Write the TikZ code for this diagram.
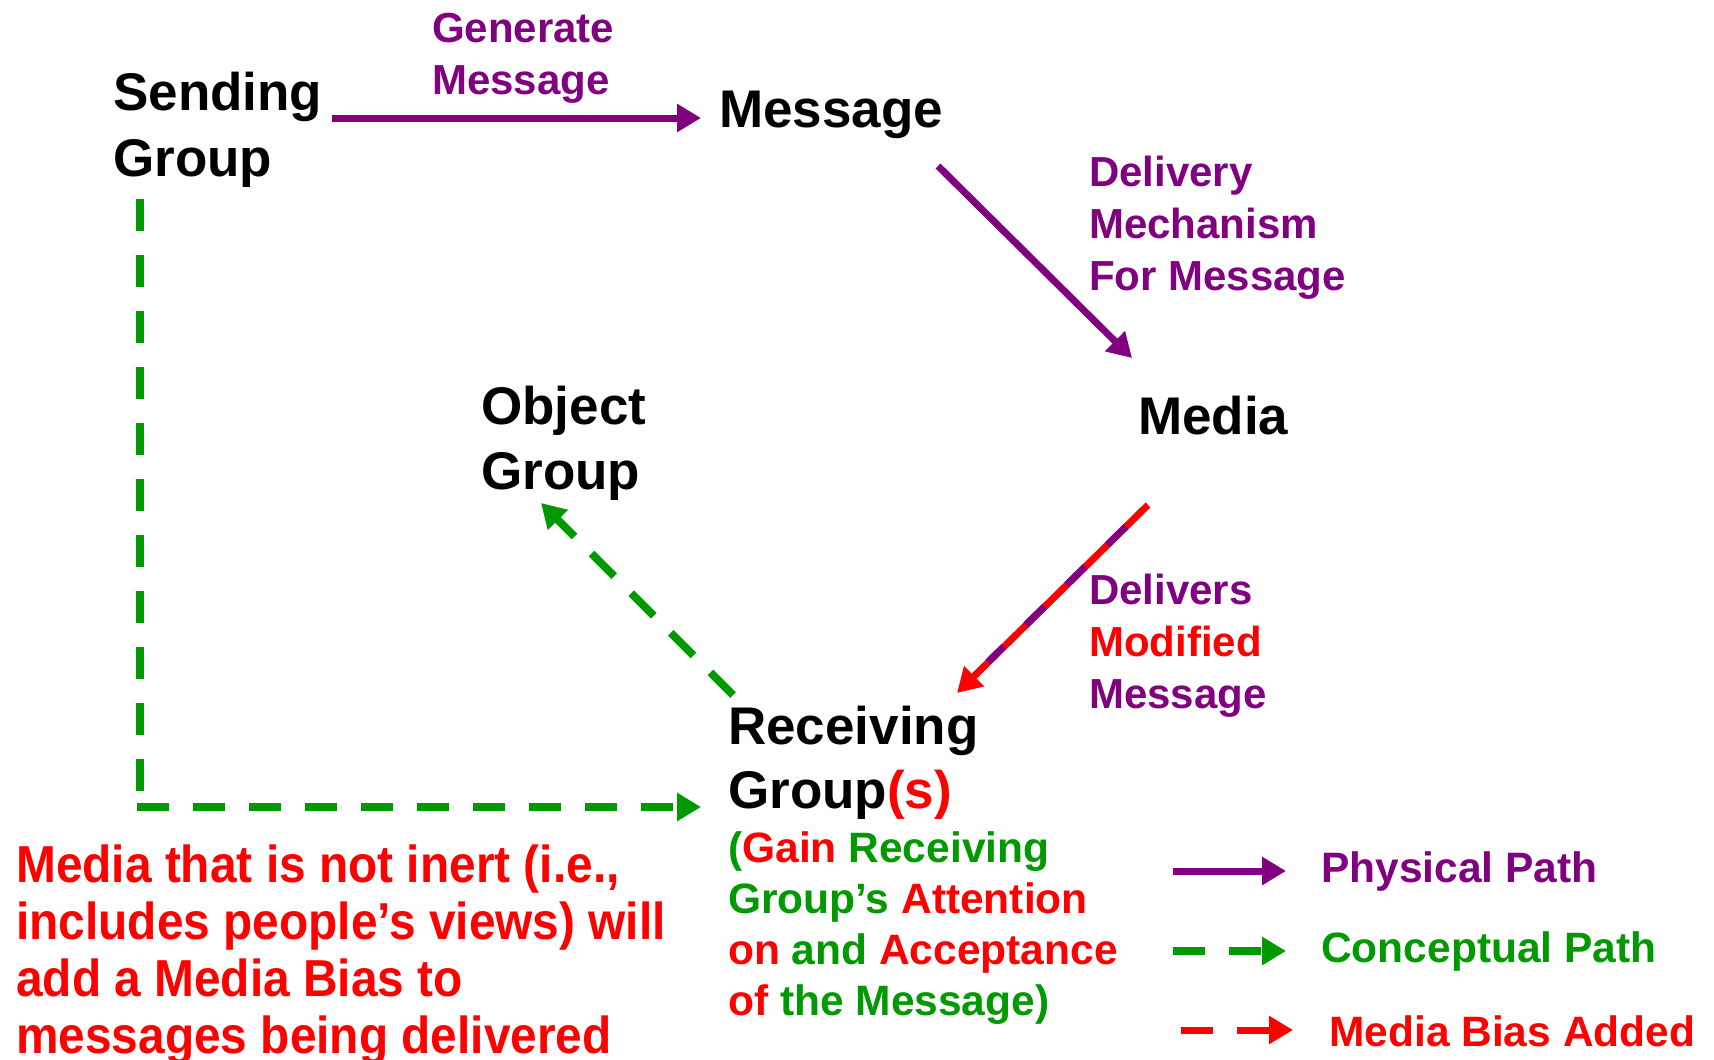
\documentclass[tikz,border=0pt]{standalone}
\usepackage{fontspec}
\setmainfont{Liberation Sans}
\newfontfamily\narrowsans[FakeStretch=0.92]{Liberation Sans}
\usetikzlibrary{arrows.meta}
\definecolor{pur}{HTML}{800080}
\definecolor{grn}{HTML}{009900}
\definecolor{rd}{HTML}{FF0000}
\begin{document}
\begin{tikzpicture}[x=1pt,y=-1pt,
  txt/.style={anchor=north west, inner sep=0pt, align=left},
  big/.style={txt, font=\bfseries\fontsize{53}{64}\selectfont},
  plab/.style={txt, text=pur, font=\bfseries\fontsize{42}{52}\selectfont},
  sub/.style={txt, text=grn, font=\bfseries\fontsize{42.5}{51}\selectfont},
  note/.style={txt, text=rd, font=\narrowsans\bfseries\fontsize{52}{57}\selectfont},
  leg/.style={anchor=west, inner sep=0pt, font=\bfseries\fontsize{42.5}{50}\selectfont},
  tip/.style={-{Triangle[length=24pt,width=27pt]}},
  phys/.style={tip, draw=pur, line width=7pt},
  concept/.style={draw=grn, line width=8pt, dash pattern=on 32pt off 24pt},
  biasline/.style={tip, draw=rd, line width=7pt},
  biasdash/.style={draw=pur, line width=7pt, dash pattern=on 26pt off 31pt, dash phase=26pt}]
\useasboundingbox[fill=white] (0,0) rectangle (1714,1060);

% main nodes
\node[big, font=\bfseries\fontsize{53}{66}\selectfont] (sg) at (113,72) {Sending\\Group};
\node[plab] (gen) at (432,13) {Generate\\Message};
\node[big] (msg) at (719,91) {Message};
\node[plab] (dm) at (1089,156) {Delivery\\Mechanism\\For Message};
\node[big] (media) at (1138,396) {Media};
\node[big, font=\bfseries\fontsize{53}{65}\selectfont] (obj) at (481,386) {Object\\Group};
\node[plab] (dmm) at (1089,574) {Delivers\\\textcolor{rd}{Modified}\\Message};
\node[big] (rg) at (728,706) {Receiving\\Group\textcolor{rd}{(s)}};
\node[sub] (gain) at (728,831) {(\textcolor{rd}{Gain} Receiving\\Group’s \textcolor{rd}{Attention}\\\textcolor{rd}{on} and \textcolor{rd}{Acceptance}\\\textcolor{rd}{of} the Message)};
\node[note] (bias) at (16,845) {Media that is not inert (i.e.,\\includes people’s views) will\\add a Media Bias to\\messages being delivered};

% connector end points
\coordinate (sg-out) at (332,118);
\coordinate (msg-in) at (701,118);
\coordinate (msg-out) at (938,166);
\coordinate (media-in) at (1132,358);
\coordinate (media-out) at (1148,505);
\coordinate (rg-in) at (957,693);
\coordinate (bias-end) at (988,662);
\coordinate (rg-out) at (733,695);
\coordinate (obj-in) at (541,503);
\coordinate (sg-down) at (140,199);
\coordinate (corner-v) at (140,800);
\coordinate (corner-h) at (137,807);
\coordinate (rg-left) at (701,807);

% connectors
\draw[phys] (sg-out) -- (msg-in);
\draw[phys] (msg-out) -- (media-in);
\draw[biasline] (media-out) -- (rg-in);
\draw[biasdash] (media-out) -- (bias-end);
\draw[concept, tip] (rg-out) -- (obj-in);
\draw[concept] (sg-down) -- (corner-v);
\draw[concept, tip] (corner-h) -- (rg-left);

% legend
\coordinate (l1a) at (1173,871); \coordinate (l1b) at (1286,871);
\coordinate (l2a) at (1173,951); \coordinate (l2b) at (1286,951);
\coordinate (l3a) at (1181,1030); \coordinate (l3b) at (1293,1030);
\draw[phys] (l1a) -- (l1b);
\draw[concept, tip] (l2a) -- (l2b);
\draw[biasline, dash pattern=on 32pt off 24pt] (l3a) -- (l3b);
\node[leg, text=pur] (lphys) at (1321,872) {Physical Path};
\node[leg, text=grn] (lconc) at (1321,952) {Conceptual Path};
\node[leg, text=rd] (lbias) at (1329,1031) {Media Bias Added};
\end{tikzpicture}
\end{document}
